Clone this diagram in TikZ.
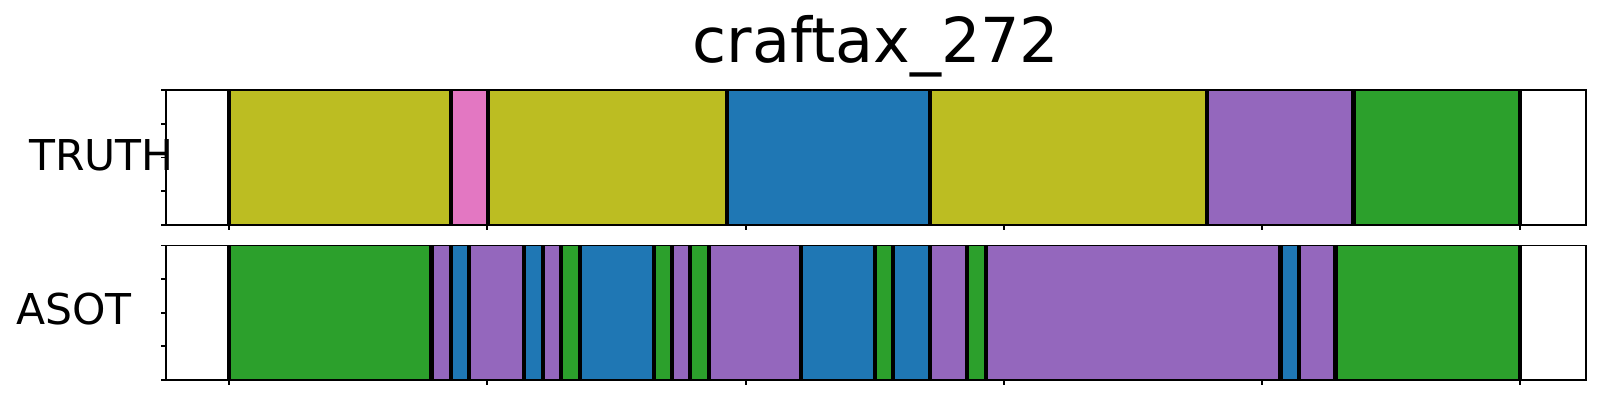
\documentclass[tikz,border=0pt]{standalone}
\usepackage{fontspec}
\setmainfont{DejaVu Sans}
\definecolor{segolive}{HTML}{BCBD22}
\definecolor{segpink}{HTML}{E377C2}
\definecolor{segblue}{HTML}{1F77B4}
\definecolor{segpurple}{HTML}{9467BD}
\definecolor{seggreen}{HTML}{2CA02C}
\begin{document}
\begin{tikzpicture}[x=1pt,y=-1pt]
\useasboundingbox (0,0) rectangle (1600,400);
\node (title) at (876,62) [anchor=base,inner sep=0,font=\fontsize{62}{74}\selectfont] {craftax\_272};
\node (truth) at (29,170) [anchor=base west,inner sep=0,font=\fontsize{42.5}{50}\selectfont] {TRUTH};
\node (asot) at (16,324) [anchor=base west,inner sep=0,font=\fontsize{42.5}{50}\selectfont] {ASOT};
% TRUTH panel
\fill[segolive] (229,90) rectangle (451,225);
\fill[segpink] (451,90) rectangle (488,225);
\fill[segolive] (488,90) rectangle (727,225);
\fill[segblue] (727,90) rectangle (930,225);
\fill[segolive] (930,90) rectangle (1207,225);
\fill[segpurple] (1207,90) rectangle (1353.7,225);
\fill[seggreen] (1353.7,90) rectangle (1520,225);
\draw[line width=4.5pt] (229,90) -- (229,225) (451,90) -- (451,225) (488,90) -- (488,225)
  (727,90) -- (727,225) (930,90) -- (930,225) (1207,90) -- (1207,225)
  (1353.7,90) -- (1353.7,225) (1520,90) -- (1520,225);
\draw[line width=1.4pt] (166,90) rectangle (1586,225);
\draw[line width=1.2pt] (161,90) -- (166,90) (161,124) -- (166,124) (161,157.5) -- (166,157.5)
  (161,191) -- (166,191) (161,225) -- (166,225);
\draw[line width=1.2pt] (229,225) -- (229,230) (487,225) -- (487,230) (746,225) -- (746,230)
  (1004,225) -- (1004,230) (1262,225) -- (1262,230) (1520,225) -- (1520,230);
% ASOT panel
\fill[seggreen] (229,245.7) rectangle (431.7,380);
\fill[segpurple] (431.7,245.7) rectangle (451,380);
\fill[segblue] (451,245.7) rectangle (469,380);
\fill[segpurple] (469,245.7) rectangle (523.8,380);
\fill[segblue] (523.8,245.7) rectangle (543,380);
\fill[segpurple] (543,245.7) rectangle (561.2,380);
\fill[seggreen] (561.2,245.7) rectangle (579.8,380);
\fill[segblue] (579.8,245.7) rectangle (653.8,380);
\fill[seggreen] (653.8,245.7) rectangle (672,380);
\fill[segpurple] (672,245.7) rectangle (690,380);
\fill[seggreen] (690,245.7) rectangle (709,380);
\fill[segpurple] (709,245.7) rectangle (801,380);
\fill[segblue] (801,245.7) rectangle (875,380);
\fill[seggreen] (875,245.7) rectangle (893,380);
\fill[segblue] (893,245.7) rectangle (930,380);
\fill[segpurple] (930,245.7) rectangle (967,380);
\fill[seggreen] (967,245.7) rectangle (986,380);
\fill[segpurple] (986,245.7) rectangle (1280.7,380);
\fill[segblue] (1280.7,245.7) rectangle (1299,380);
\fill[segpurple] (1299,245.7) rectangle (1335.7,380);
\fill[seggreen] (1335.7,245.7) rectangle (1520,380);
\draw[line width=4.5pt] (229,245.7) -- (229,380) (431.7,245.7) -- (431.7,380) (451,245.7) -- (451,380)
  (469,245.7) -- (469,380) (523.8,245.7) -- (523.8,380) (543,245.7) -- (543,380)
  (561.2,245.7) -- (561.2,380) (579.8,245.7) -- (579.8,380) (653.8,245.7) -- (653.8,380)
  (672,245.7) -- (672,380) (690,245.7) -- (690,380) (709,245.7) -- (709,380)
  (801,245.7) -- (801,380) (875,245.7) -- (875,380) (893,245.7) -- (893,380)
  (930,245.7) -- (930,380) (967,245.7) -- (967,380) (986,245.7) -- (986,380)
  (1280.7,245.7) -- (1280.7,380) (1299,245.7) -- (1299,380) (1335.7,245.7) -- (1335.7,380)
  (1520,245.7) -- (1520,380);
\draw[line width=1.4pt] (166,245.7) rectangle (1586,380);
\draw[line width=1.2pt] (161,245.7) -- (166,245.7) (161,279) -- (166,279) (161,313) -- (166,313)
  (161,346) -- (166,346) (161,380) -- (166,380);
\draw[line width=1.2pt] (229,380) -- (229,385) (487,380) -- (487,385) (746,380) -- (746,385)
  (1004,380) -- (1004,385) (1262,380) -- (1262,385) (1520,380) -- (1520,385);
\end{tikzpicture}
\end{document}
